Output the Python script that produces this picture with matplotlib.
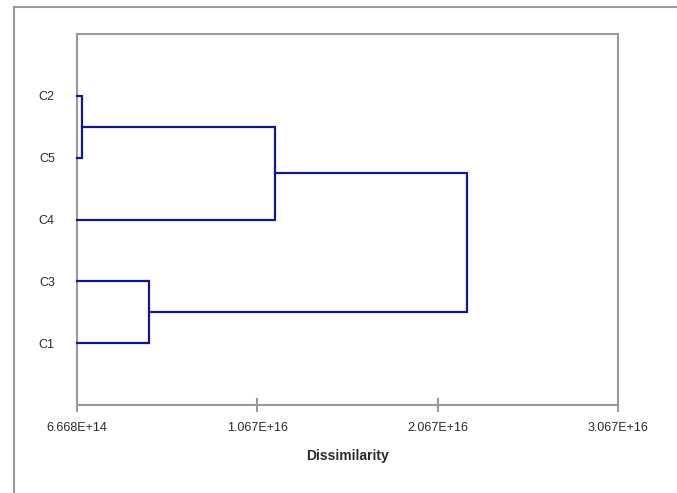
import matplotlib
matplotlib.use("Agg")
import matplotlib.pyplot as plt
from matplotlib.lines import Line2D

# ---- data ----
leaf_labels = ['C1', 'C3', 'C4', 'C5', 'C2']          # bottom to top
merge_a = [3, 0, 2, 6]                                # node ids (leaves 0-4, clusters 5-8)
merge_b = [4, 1, 5, 7]
merge_height = [9.5e14, 4.66e15, 1.165e16, 2.228e16]
x_ticks = [6.668e14, 1.067e16, 2.067e16, 3.067e16]
x_tick_labels = ['6.668E+14', '1.067E+16', '2.067E+16', '3.067E+16']
x_label = 'Dissimilarity'

W, H = 677, 493
fig = plt.figure(figsize=(W / 100, H / 100), dpi=100)
fig.patch.set_facecolor('white')
plt.rcParams['font.family'] = ['Liberation Sans Narrow', 'Liberation Sans', 'DejaVu Sans']

left, right, top, bottom = 77, 618, 34, 405
ax = fig.add_axes([left / W, 1 - bottom / H, (right - left) / W, (bottom - top) / H])

line_col = '#16168C'
frame_col = '#9A9A9A'
text_col = '#2a2a2a'

xmin = x_ticks[0]
node_x = [xmin] * len(leaf_labels)
node_y = [i + 1 for i in range(len(leaf_labels))]
for a, b, h in zip(merge_a, merge_b, merge_height):
    ax.plot([node_x[a], h, h, node_x[b]], [node_y[a], node_y[a], node_y[b], node_y[b]],
            color=line_col, lw=1.6, solid_joinstyle='miter', clip_on=False, zorder=3)
    node_x.append(h)
    node_y.append((node_y[a] + node_y[b]) / 2)

ax.set_xlim(x_ticks[0], x_ticks[-1])
ax.set_ylim(0, len(leaf_labels) + 1)

ax.set_xticks(x_ticks)
ax.set_xticklabels(x_tick_labels, fontsize=9, color=text_col)
ax.set_yticks(range(1, len(leaf_labels) + 1))
ax.set_yticklabels(leaf_labels, fontsize=9, color=text_col)
ax.tick_params(axis='x', direction='inout', length=10, width=1.5, color=frame_col, pad=7)
ax.tick_params(axis='y', length=0, pad=16)
ax.set_xlabel(x_label, fontsize=10, fontweight='bold', color=text_col, labelpad=11)

for s in ax.spines.values():
    s.set_color(frame_col)
    s.set_linewidth(1.5)

# outer chart-area frame (cropped at right and bottom)
fig.add_artist(Line2D([14 / W, 14 / W], [1 - 7 / H, 0], transform=fig.transFigure,
                      color=frame_col, lw=1.5))
fig.add_artist(Line2D([14 / W, 1], [1 - 7 / H, 1 - 7 / H], transform=fig.transFigure,
                      color=frame_col, lw=1.5))

fig.savefig('out.png', dpi=100, facecolor='white')
